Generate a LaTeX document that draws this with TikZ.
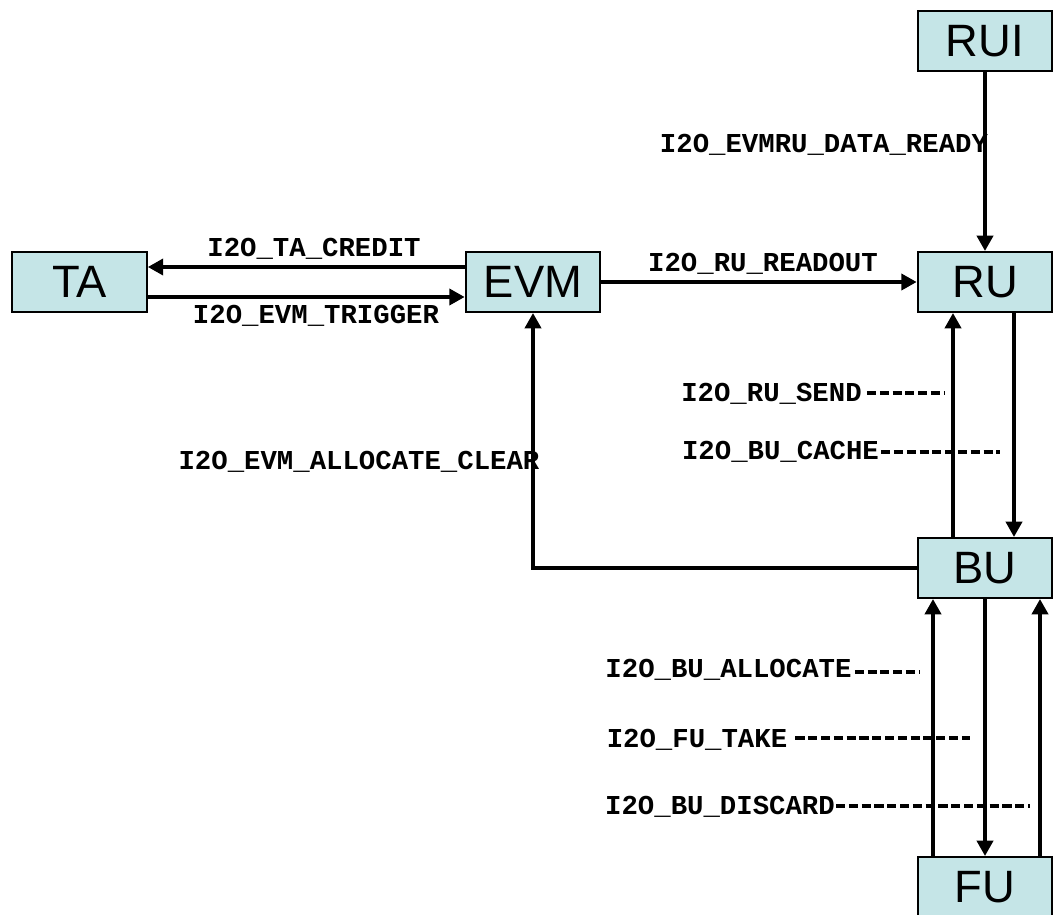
\documentclass[tikz,border=0pt]{standalone}
\usepackage{fontspec}
\setmainfont{Liberation Sans}
\newfontfamily\lblfont{Liberation Mono}
\usetikzlibrary{arrows.meta,calc}
\definecolor{boxfill}{HTML}{C5E5E7}
\begin{document}
\begin{tikzpicture}[x=0.75pt,y=-0.75pt,
 box/.style={draw=black, line width=1.5pt, fill=boxfill, minimum width=101pt, minimum height=45pt, inner sep=0pt, font=\fontsize{34}{34}\selectfont},
 lbl/.style={inner sep=0pt, anchor=base, font=\lblfont\bfseries\fontsize{20.5}{20.5}\selectfont},
 arr/.style={line width=2.8pt, -{Triangle[length=11.5pt,width=12pt]}},
 dsh/.style={line width=2.3pt, dash pattern=on 6.8pt off 2.8pt}]
\useasboundingbox (0,0) rectangle (1053,914);
% boxes
\node[box] (RUI) at (985,41) {RUI};
\node[box] (TA) at (79.5,282) {TA};
\node[box] (EVM) at (533,282) {EVM};
\node[box] (RU) at (985,282) {RU};
\node[box] (BU) at (985,568) {BU};
\node[box] (FU) at (985,887) {FU};
% labels
\node[lbl] (lDR) at (824,152) {I2O\_EVMRU\_DATA\_READY};
\node[lbl] (lTC) at (314,256) {I2O\_TA\_CREDIT};
\node[lbl] (lET) at (316,323) {I2O\_EVM\_TRIGGER};
\node[lbl] (lRR) at (763,271) {I2O\_RU\_READOUT};
\node[lbl] (lEAC) at (359,469) {I2O\_EVM\_ALLOCATE\_CLEAR};
\node[lbl] (lRS) at (771.5,401) {I2O\_RU\_SEND};
\node[lbl] (lBC) at (780.5,459) {I2O\_BU\_CACHE};
\node[lbl] (lBA) at (728.5,677) {I2O\_BU\_ALLOCATE};
\node[lbl] (lFT) at (697,747) {I2O\_FU\_TAKE};
\node[lbl] (lBD) at (720,814) {I2O\_BU\_DISCARD};
% dashed end points
\coordinate (sendE) at (945,393);
\coordinate (cacheE) at (1000,452);
\coordinate (allocE) at (920,672);
\coordinate (takeE) at (970,738);
\coordinate (discE) at (1030,806);
% connectors
\draw[arr] (RUI.south) -- (RU.north);
\draw[arr] ($(EVM.west)+(0,-15)$) -- ($(TA.east)+(0,-15)$);
\draw[arr] ($(TA.east)+(0,15)$) -- ($(EVM.west)+(0,15)$);
\draw[arr] (EVM.east) -- (RU.west);
\draw[arr] ($(BU.north)+(-32,0)$) -- ($(RU.south)+(-32,0)$);
\draw[arr] ($(RU.south)+(29,0)$) -- ($(BU.north)+(29,0)$);
\draw[arr] (BU.west) -| (EVM.south);
\draw[arr] ($(FU.north)+(-52,0)$) -- ($(BU.south)+(-52,0)$);
\draw[arr] (BU.south) -- (FU.north);
\draw[arr] ($(FU.north)+(55,0)$) -- ($(BU.south)+(55,0)$);
% dashed
\draw[dsh] ($(lRS.base east)+(5,-8)$) -- (sendE);
\draw[dsh] ($(lBC.base east)+(2,-7)$) -- (cacheE);
\draw[dsh] ($(lBA.base east)+(3,-5)$) -- (allocE);
\draw[dsh] ($(lFT.base east)+(8,-9)$) -- (takeE);
\draw[dsh] ($(lBD.base east)+(1,-8)$) -- (discE);
\end{tikzpicture}
\end{document}
